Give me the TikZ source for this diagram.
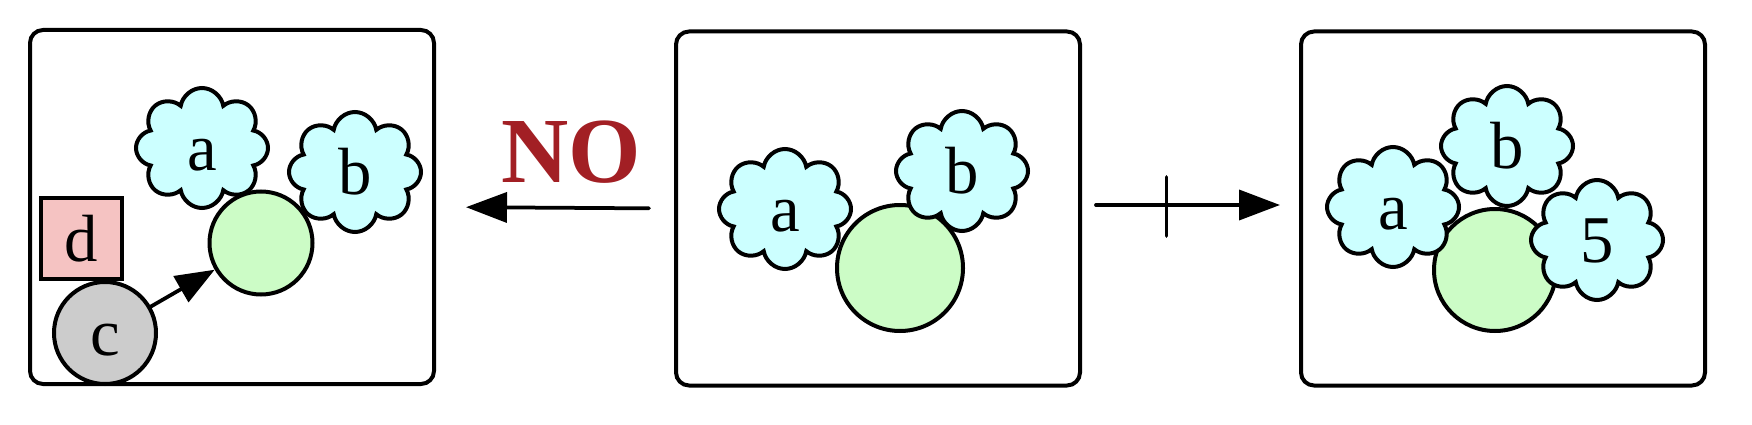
\documentclass[tikz,border=0pt]{standalone}
\usepackage{fontspec}
\setmainfont{Liberation Serif}
\usetikzlibrary{shapes.symbols,arrows.meta}

\definecolor{puffblue}{HTML}{CCFFFF}
\definecolor{ballgreen}{HTML}{CCFCC6}
\definecolor{boxpink}{HTML}{F5C3C2}
\definecolor{ballgray}{HTML}{CCCCCC}
\definecolor{nored}{HTML}{A21F24}

\tikzset{
    every node/.style={font=\fontsize{38}{40}\selectfont, text height=26pt, text depth=0pt},
    panel/.style={draw, line width=0.08cm, rounded corners=0.26cm, minimum width=8.08cm, minimum height=7.08cm},
    puff/.style={cloud, cloud puffs=8, cloud puff arc=160, cloud ignores aspect, draw, fill=puffblue,
        line width=0.08cm, minimum width=2.64cm, minimum height=2.4cm, inner sep=0pt},
    ball/.style={circle, draw, line width=0.08cm, inner sep=0pt},
    move/.style={line width=0.075cm, line cap=round, -{Triangle[length=0.82cm,width=0.6cm]}},
}

\begin{document}
\begin{tikzpicture}

    \useasboundingbox (0,0) rectangle (35.04,8.48);

    \node[panel] (leftpanel) at (4.64,4.34) {};
    \node[panel] (midpanel) at (17.56,4.31) {};
    \node[panel] (rightpanel) at (30.06,4.31) {};

    \node[ball, fill=ballgreen, minimum size=2.06cm] (lg) at (5.22,3.62) {};
    \node[puff] (la) at (4.04,5.52) {a};
    \node[puff] (lb) at (7.10,5.04) {b};
    \node[draw, fill=boxpink, line width=0.08cm, minimum size=1.62cm, inner sep=0pt] (ld) at (1.63,3.71) {d};
    \node[ball, fill=ballgray, minimum size=2.04cm] (lc) at (2.10,1.82) {c};
    \draw[move, -{Triangle[length=0.78cm,width=0.59cm]}] (lc) -- (lg);

    \node[ball, fill=ballgreen, minimum size=2.52cm] (mg) at (18.00,3.12) {};
    \node[puff] (ma) at (15.70,4.30) {a};
    \node[puff] (mb) at (19.24,5.06) {b};

    \node[ball, fill=ballgreen, minimum size=2.44cm] (rg) at (29.90,3.08) {};
    \node[puff] (ra) at (27.86,4.34) {a};
    \node[puff] (rb) at (30.14,5.56) {b};
    \node[puff] (r5) at (31.94,3.68) {5};

    \draw[move, shorten <=0.5cm, shorten >=0.6cm] (midpanel.west) -- (leftpanel.east);
    \node[text=nored, font=\bfseries\fontsize{53}{55}\selectfont, anchor=base] (no) at (11.43,4.82) {NO};

    \draw[move] ([xshift=0.28cm,yshift=0.07cm]midpanel.east) -- coordinate[pos=0.383] (cut) ([xshift=-0.38cm,yshift=0.07cm]rightpanel.west);
    \draw[line width=0.075cm, line cap=round] ([yshift=0.56cm]cut) -- ([yshift=-0.62cm]cut);

\end{tikzpicture}
\end{document}
